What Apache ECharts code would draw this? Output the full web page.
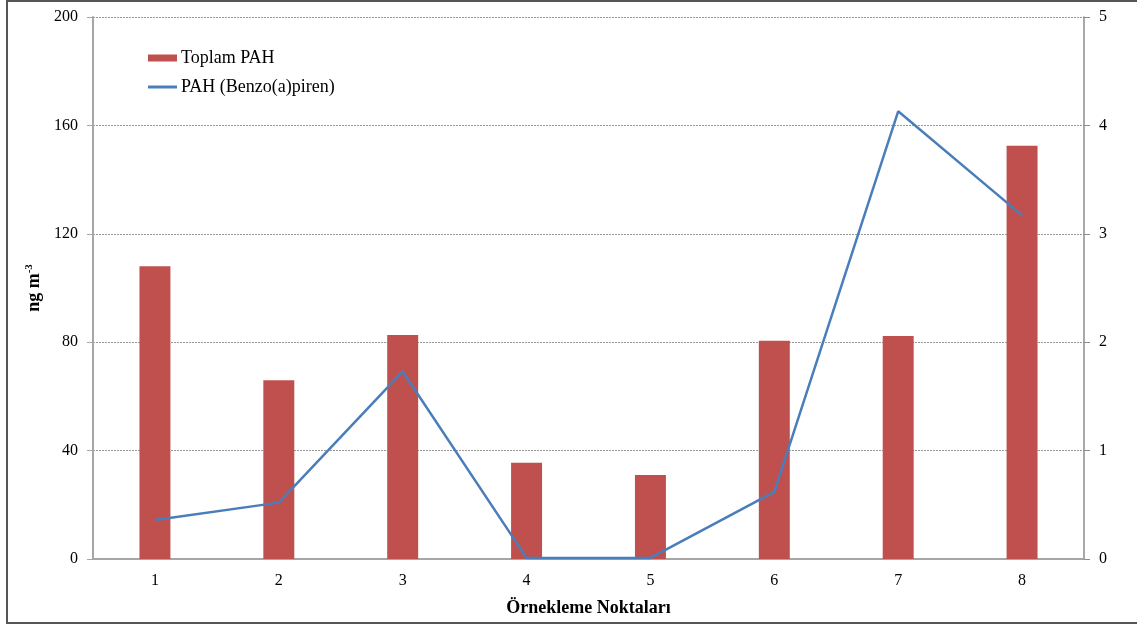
<!DOCTYPE html>
<html>
<head>
<meta charset="utf-8">
<script src="https://cdn.jsdelivr.net/npm/echarts@6/dist/echarts.min.js"></script>
<style>
    html, body { margin: 0; padding: 0; background: #fff; }
    #frame { position: absolute; left: 6px; top: 0; width: 1140px; height: 624px; border: 2px solid #555; box-sizing: border-box; }
    #chart { position: absolute; left: 0; top: 0; width: 1137px; height: 627px; }
</style>
</head>
<body>
<div id="frame"></div>
<div id="chart"></div>
<script>
    // veri
    let categories = ['1', '2', '3', '4', '5', '6', '7', '8'];
    let toplamPAH = [108, 66, 82.7, 35.5, 31, 80.5, 82.3, 152.5];
    let benzoPiren = [0.36, 0.52, 1.73, 0.01, 0.01, 0.62, 4.13, 3.17];

    let fontSerif = '"Liberation Serif", "Times New Roman", serif';

    let chartDom = document.getElementById('chart');
    let chart = echarts.init(chartDom);
    let option = {
        animation: false,
        textStyle: { fontFamily: fontSerif, color: '#000' },
        grid: {
            left: 93,
            right: 53,
            top: 17,
            bottom: 68
        },
        legend: {
            orient: 'vertical',
            left: 143,
            top: 44,
            itemGap: 11,
            itemWidth: 29,
            itemHeight: 20,
            textStyle: { fontFamily: fontSerif, fontSize: 18, color: '#000', padding: [0, 0, 0, -1] },
            data: [
                { name: 'Toplam PAH', icon: 'path://M0,6 L29,6 L29,13 L0,13 Z' },
                { name: 'PAH (Benzo(a)piren)', icon: 'path://M0,8.5 L29,8.5 L29,11.5 L0,11.5 Z' }
            ]
        },
        xAxis: {
            type: 'category',
            data: categories,
            name: 'Örnekleme Noktaları',
            nameLocation: 'middle',
            nameGap: 40,
            nameTextStyle: { fontFamily: fontSerif, fontWeight: 'bold', fontSize: 18, color: '#000' },
            axisLine: { lineStyle: { color: '#a6a6a6', width: 2 } },
            axisTick: { show: false },
            axisLabel: { fontSize: 16, color: '#000', margin: 14 }
        },
        yAxis: [
            {
                type: 'value',
                min: 0,
                max: 200,
                interval: 40,
                name: '{a|ng m}{b|-3}',
                nameLocation: 'middle',
                nameGap: 45,
                nameRotate: 90,
                nameTextStyle: {
                    rich: {
                        a: { fontFamily: fontSerif, fontWeight: 'bold', fontSize: 18, color: '#000' },
                        b: { fontFamily: fontSerif, fontWeight: 'bold', fontSize: 11, color: '#000', verticalAlign: 'top', padding: [0, 0, 9, 0] }
                    }
                },
                axisLine: { show: true, lineStyle: { color: '#a6a6a6', width: 2 } },
                axisTick: { show: true, length: 6, lineStyle: { color: '#a6a6a6' } },
                axisLabel: { fontSize: 16, color: '#000', margin: 15 },
                splitLine: { lineStyle: { color: '#9a9a9a', type: [2, 1], width: 1 } }
            },
            {
                type: 'value',
                min: 0,
                max: 5,
                interval: 1,
                position: 'right',
                axisLine: { show: true, lineStyle: { color: '#8c8c8c', width: 1.5 } },
                axisTick: { show: true, length: 6, lineStyle: { color: '#8c8c8c' } },
                axisLabel: { fontSize: 16, color: '#000', margin: 15 },
                splitLine: { show: false }
            }
        ],
        series: [
            {
                name: 'Toplam PAH',
                type: 'bar',
                yAxisIndex: 0,
                barWidth: '25%',
                itemStyle: { color: '#c0504d' },
                data: toplamPAH
            },
            {
                name: 'PAH (Benzo(a)piren)',
                type: 'line',
                yAxisIndex: 1,
                symbol: 'none',
                lineStyle: { color: '#4a7ebb', width: 2.5 },
                itemStyle: { color: '#4a7ebb' },
                data: benzoPiren
            }
        ]
    };
    option && chart.setOption(option);
</script>
</body>
</html>
